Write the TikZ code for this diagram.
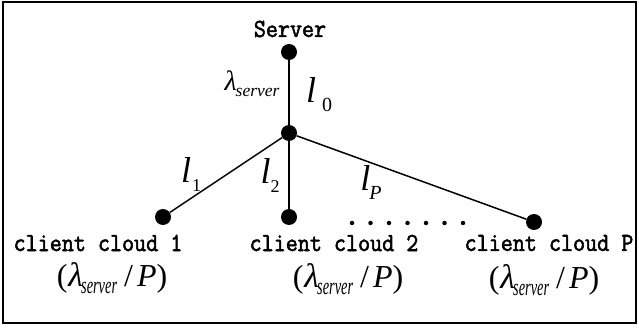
\documentclass[tikz,border=0pt]{standalone}
\usepackage{fontspec}
\usepackage{graphicx}
\setmainfont{Liberation Serif}
\newfontfamily\monoc[FakeStretch=0.9,FakeBold=2]{Latin Modern Mono}
\newcommand{\lamsrv}{{\fontsize{32}{34}\selectfont(}\kern1pt{\fontsize{34}{36}\selectfont\textit{λ}}\kern-2pt\raisebox{-7pt}{\scalebox{0.6}[1]{\fontsize{24}{24}\selectfont\itshape server}}\kern7pt{\fontsize{32}{34}\selectfont/}\kern4pt{\fontsize{32}{34}\selectfont\textit{P})}}
\tikzset{
  dot/.style={circle,fill=black,inner sep=0pt,minimum size=16pt},
  smalldot/.style={circle,fill=black,inner sep=0pt,minimum size=4.5pt},
  mono/.style={font=\fontsize{26}{30}\selectfont\monoc,inner sep=0pt},
  lab/.style={inner sep=0pt,font=\fontsize{36}{40}\selectfont\itshape},
  share/.style={inner sep=0pt},
  link/.style={line width=1.5pt},
  frame/.style={line width=1.8pt}
}
\begin{document}
\begin{tikzpicture}[x=1pt,y=-1pt]
\useasboundingbox (0,0) rectangle (639,328);
\draw[frame] (3,2) rectangle (636,323);
% nodes
\node[dot] (s) at (289,52) {};
\node[dot] (m) at (289,133) {};
\node[dot] (c1) at (163,217) {};
\node[dot] (c2) at (289,217) {};
\node[dot] (cp) at (534,222) {};
% links
\draw[link] (s) -- (m);
\draw[link] (m) -- (c1);
\draw[link] (m) -- (c2);
\draw[link] (m) -- (cp);
% labels
\node[mono] (ts) at (290,29) {Server};
\node[inner sep=0pt] (ls) at (252,84) {\fontsize{28}{30}\selectfont\textit{λ}\kern-1pt\raisebox{-6pt}{\fontsize{17.5}{20}\selectfont\itshape server}};
\node[lab] (l0) at (319,95) {l\kern6pt\raisebox{-9pt}{\fontsize{20}{20}\selectfont\upshape 0}};
\node[lab] (l1) at (191,175) {l\kern1pt\raisebox{-9pt}{\fontsize{18}{20}\selectfont\upshape 1}};
\node[lab] (l2) at (270,176) {l\kern0pt\raisebox{-9pt}{\fontsize{18}{20}\selectfont\upshape 2}};
\node[lab] (lp) at (371,183) {l\kern-1pt\raisebox{-9pt}{\fontsize{20}{20}\selectfont\itshape P}};
\foreach \i in {0,...,6} \node[smalldot] (d\i) at (352+18.5*\i,223) {};
\node[mono] (t1) at (98,243) {client cloud 1};
\node[mono] (t2) at (334,243) {client cloud 2};
\node[mono] (tp) at (549,243) {client cloud P};
\node[share] (r1) at (112,278) {\lamsrv};
\node[share] (r2) at (348,279) {\lamsrv};
\node[share] (rp) at (544,280) {\lamsrv};
\end{tikzpicture}
\end{document}
